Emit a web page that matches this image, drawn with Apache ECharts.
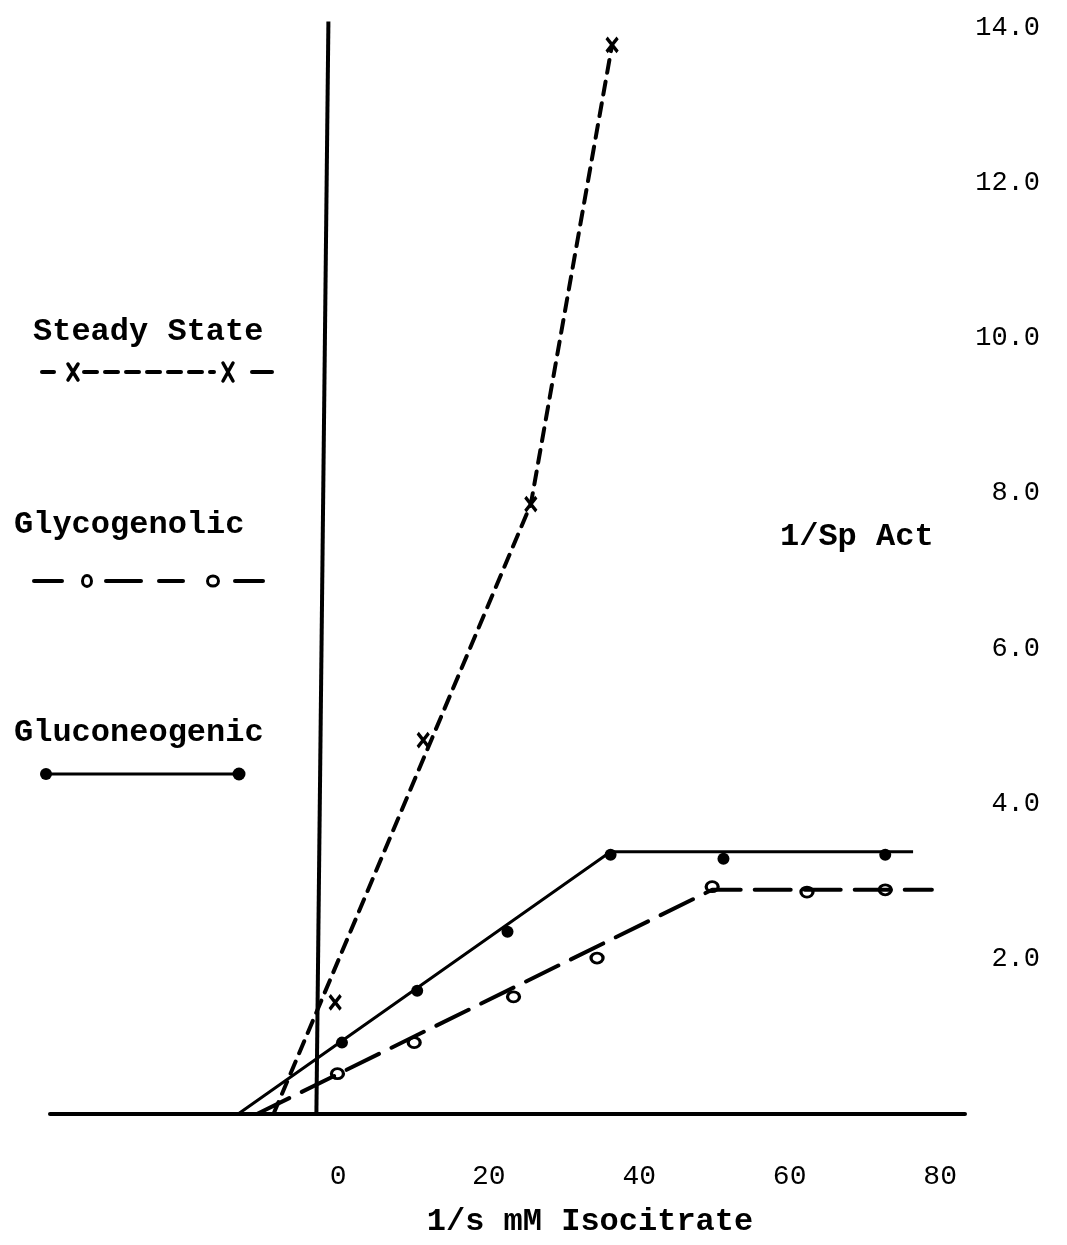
<!DOCTYPE html>
<html>
<head>
<meta charset="utf-8">
<script src="https://cdn.jsdelivr.net/npm/echarts@6/dist/echarts.min.js"></script>
<style>
  html, body { margin: 0; padding: 0; background: #fff; }
  #chart { width: 1067px; height: 1245px; }
</style>
</head>
<body>
<div id="chart"></div>
<script>
// Lineweaver-Burk plot: 1/v against 1/[S] for isocitrate, three liver states.

// Tick labels
const xTickValues = [0, 20, 40, 60, 80];
const yTickValues = [2, 4, 6, 8, 10, 12, 14];

// Ordinate (the 1/v axis drawn through the origin region)
const ordinate = [[-2.9, 0], [-1.3, 14.08]];

// Steady State (x marks, short dashes)
const steadyPoints = [[-0.4, 1.44], [11.3, 4.82], [25.6, 7.86], [36.4, 13.78]];
const steadyLine = [[-8.6, 0], [25.6, 7.86], [36.4, 13.78]];

// Glycogenolic (open circles, long dashes)
const glycoPoints = [[-0.1, 0.52], [10.1, 0.92], [23.3, 1.51], [34.4, 2.01], [49.7, 2.93], [62.3, 2.86], [72.7, 2.89]];
const glycoLine = [[-10.8, 0], [49.7, 2.89], [78.9, 2.89]];

// Gluconeogenic (filled dots, solid line)
const gluconeoPoints = [[0.5, 0.92], [10.5, 1.59], [22.5, 2.35], [36.2, 3.34], [51.2, 3.29], [72.7, 3.34]];
const gluconeoLine = [[-13.3, 0], [36.2, 3.38], [76.4, 3.38]];

const FONT = '"Liberation Mono", "DejaVu Sans Mono", monospace';
const INK = '#000';

const chart = echarts.init(document.getElementById('chart'), null, { renderer: 'canvas' });

const crossPath = 'path://M0,0L10,12M10,0L0,12';

function txt(text, x, y, size, align) {
  return {
    type: 'text', x: x, y: y, silent: true,
    style: {
      text: text, fill: INK, font: 'bold ' + size + 'px ' + FONT,
      textAlign: align || 'left', textVerticalAlign: 'middle'
    }
  };
}
function seg(x1, y1, x2, y2, w, dash) {
  return {
    type: 'line', silent: true,
    shape: { x1: x1, y1: y1, x2: x2, y2: y2 },
    style: { stroke: INK, lineWidth: w, lineDash: dash || null, lineCap: 'round' }
  };
}

const legendGraphics = [
  // Steady State
  txt('Steady State', 33, 332, 32),
  seg(42, 372, 54, 372, 4),
  seg(84, 372, 214, 372, 4, [13, 8]),
  seg(252, 372, 272, 372, 4),
  seg(68, 364, 78, 380, 3.5), seg(78, 364, 68, 380, 3.5),
  seg(223, 363, 233, 381, 3.5), seg(233, 363, 223, 381, 3.5),
  // Glycogenolic
  txt('Glycogenolic', 14, 525, 32),
  seg(34, 581, 62, 581, 4),
  seg(106, 581, 141, 581, 4),
  seg(159, 581, 183, 581, 4),
  seg(235, 581, 263, 581, 4),
  { type: 'ellipse', silent: true, shape: { cx: 87, cy: 581, rx: 4.5, ry: 5.5 }, style: { fill: '#fff', stroke: INK, lineWidth: 3 } },
  { type: 'ellipse', silent: true, shape: { cx: 213, cy: 581, rx: 5.5, ry: 5 }, style: { fill: '#fff', stroke: INK, lineWidth: 3 } },
  // Gluconeogenic
  txt('Gluconeogenic', 14, 733, 32),
  seg(45, 774, 240, 774, 3),
  { type: 'circle', silent: true, shape: { cx: 46, cy: 774, r: 6 }, style: { fill: INK } },
  { type: 'circle', silent: true, shape: { cx: 239, cy: 774, r: 6.5 }, style: { fill: INK } },
  // Axis titles
  txt('1/Sp Act', 780, 537, 32),
  txt('1/s mM Isocitrate', 590, 1222, 32, 'center')
];

const option = {
  animation: false,
  backgroundColor: '#fff',
  grid: { left: 50, right: 102, top: 20, bottom: 131, containLabel: false },
  xAxis: {
    type: 'value', min: -38.3, max: 83.3,
    axisLine: { show: true, onZero: false, lineStyle: { color: INK, width: 4 } },
    axisTick: { show: false },
    splitLine: { show: false },
    axisLabel: {
      customValues: xTickValues, margin: 49,
      color: INK, fontFamily: FONT, fontSize: 28
    }
  },
  yAxis: {
    type: 'value', position: 'right', min: 0, max: 14.1,
    axisLine: { show: false },
    axisTick: { show: false },
    splitLine: { show: false },
    axisLabel: {
      customValues: yTickValues, margin: 75, align: 'right',
      color: INK, fontFamily: FONT, fontSize: 27,
      formatter: function (v) { return v.toFixed(1); }
    }
  },
  graphic: legendGraphics,
  series: [
    {
      name: 'ordinate', type: 'line', data: ordinate, symbol: 'none', silent: true,
      lineStyle: { color: INK, width: 4 }
    },
    {
      name: 'Gluconeogenic', type: 'line', data: gluconeoLine, symbol: 'none', silent: true,
      lineStyle: { color: INK, width: 3 }
    },
    {
      name: 'Glycogenolic', type: 'line', data: glycoLine, symbol: 'none', silent: true,
      lineStyle: { color: INK, width: 4, type: [36, 14], cap: 'round' }
    },
    {
      name: 'Steady State', type: 'line', data: steadyLine, symbol: 'none', silent: true,
      lineStyle: { color: INK, width: 4, type: [13, 9], cap: 'round' }
    },
    {
      name: 'Gluconeogenic points', type: 'scatter', data: gluconeoPoints,
      symbol: 'circle', symbolSize: 12, itemStyle: { color: INK, opacity: 1 }
    },
    {
      name: 'Glycogenolic points', type: 'scatter', data: glycoPoints,
      symbol: 'circle', symbolSize: [12, 10],
      itemStyle: { color: '#fff', borderColor: INK, borderWidth: 3, opacity: 1 }
    },
    {
      name: 'Steady State points', type: 'scatter', data: steadyPoints,
      symbol: crossPath, symbolSize: [11, 14],
      itemStyle: { color: 'none', borderColor: INK, borderWidth: 3.5, opacity: 1 }
    }
  ]
};

chart.setOption(option);
</script>
</body>
</html>
